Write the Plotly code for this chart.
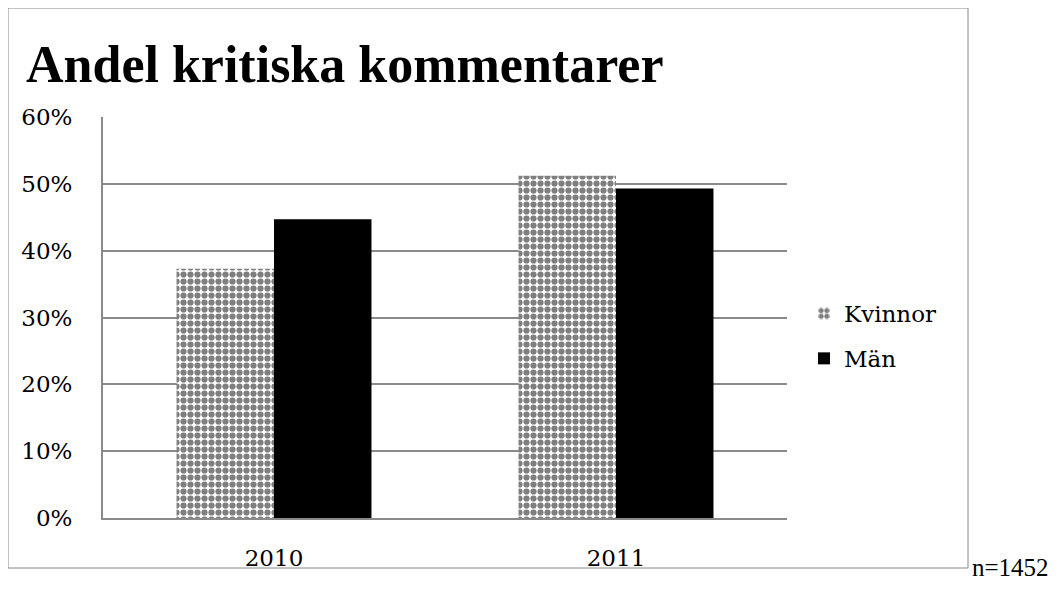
import plotly.graph_objects as go

years = ["2010", "2011"]
kvinnor = [37.3, 51.2]
man = [44.7, 49.3]
y_ticks = [0, 10, 20, 30, 40, 50, 60]
y_tick_labels = ["0%", "10%", "20%", "30%", "40%", "50%", "60%"]

# page body has an 8px margin; work in reference pixel coords minus 8
OFF = 8
W, H = 1058 - OFF, 590 - OFF
L, R, T, B = 103 - OFF, 787 - OFF, 117 - OFF, 518 - OFF

fig = go.Figure()
fig.add_trace(go.Bar(
    x=years, y=kvinnor, name="Kvinnor", legendgroup="k",
    marker=dict(color="white", line=dict(width=0),
                pattern=dict(shape=".", fgcolor="black", bgcolor="white",
                             size=7, solidity=0.62, fillmode="overlay")),
))
fig.add_trace(go.Bar(
    x=years, y=man, name="Män", legendgroup="m",
    marker=dict(color="black", line=dict(width=0)),
))

pw = R - L
ph = B - T
def px(x):
    return (x - OFF - L) / pw
def py(y):
    return (B - (y - OFF)) / ph

fig.add_shape(type="rect", xref="paper", yref="paper",
              x0=px(8), x1=px(968), y0=py(568), y1=py(8),
              line=dict(color="#888888", width=1), layer="below")
fig.add_annotation(text="n=1452", xref="paper", yref="paper",
                   x=px(970), y=py(567), xanchor="left", yanchor="middle",
                   showarrow=False,
                   font=dict(family="Liberation Serif", size=25, color="black"))

fig.update_layout(
    width=W, height=H,
    margin=dict(l=L, r=W - R, t=T, b=H - B, pad=0),
    paper_bgcolor="white", plot_bgcolor="white",
    barmode="group", bargap=0.43, bargroupgap=0,
    title=dict(text="<b>Andel kritiska kommentarer</b>", x=(26 - OFF) / W, xanchor="left",
               y=1 - (64 - OFF) / H, yanchor="middle", xref="container", yref="container",
               font=dict(family="Liberation Serif", size=52, color="black")),
    legend=dict(x=px(804), y=py(336), xanchor="left", yanchor="middle",
                traceorder="grouped", tracegroupgap=12,
                font=dict(family="DejaVu Serif", size=23, color="black"),
                itemwidth=30, bgcolor="rgba(0,0,0,0)"),
    showlegend=True,
)
fig.update_xaxes(showline=True, linecolor="#8a8a8a", linewidth=2, ticks="",
                 showgrid=False, ticklabelstandoff=18,
                 tickfont=dict(family="DejaVu Serif", size=23, color="black"))
fig.update_yaxes(range=[0, 60], tickvals=y_ticks, ticktext=y_tick_labels,
                 showline=True, linecolor="#8a8a8a", linewidth=2, ticks="",
                 showgrid=True, gridcolor="#8a8a8a", gridwidth=2,
                 zeroline=False, ticklabelstandoff=24,
                 tickfont=dict(family="DejaVu Serif", size=23, color="black"))

fig.write_html("out.html")
